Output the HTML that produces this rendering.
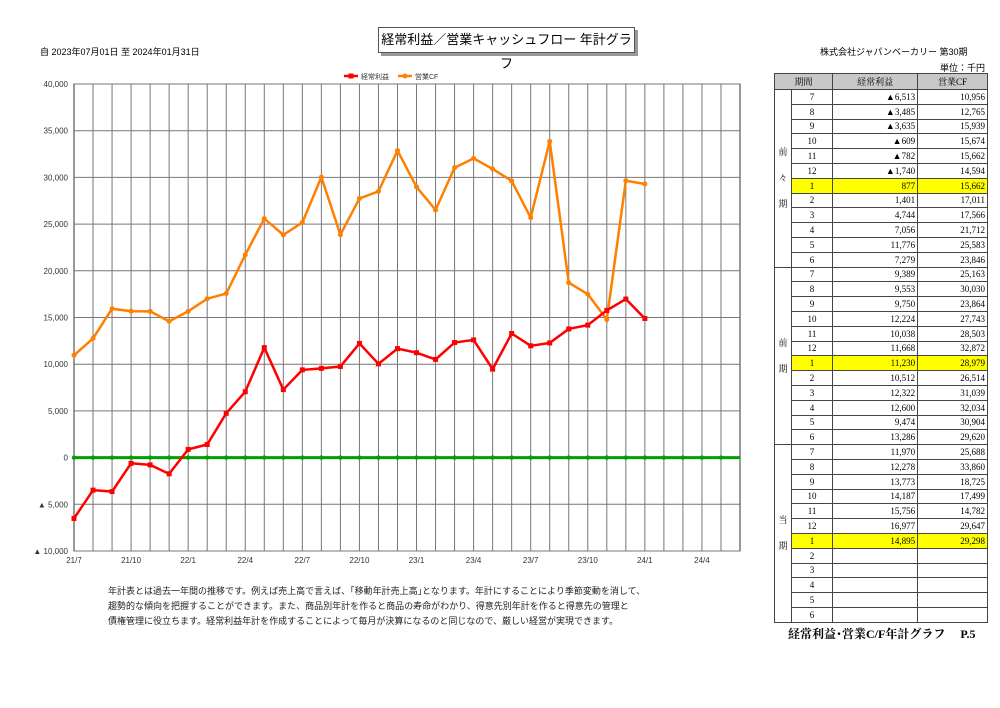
<!DOCTYPE html>
<html><head><meta charset="utf-8">
<style>
body{margin:0;width:1000px;height:708px;background:#fff;font-family:"Liberation Sans","Noto Sans CJK JP",sans-serif;position:relative;overflow:hidden}
.abs{position:absolute}
#title{left:378px;top:27px;width:255px;height:24px;border:1px solid #555;box-shadow:3px 3px 0 #999;font-size:13px;line-height:24px;text-align:center;background:#fff}
table{border-collapse:collapse;font-family:"Liberation Serif","Noto Serif CJK SC",serif;font-size:9px}
td,th{border:1px solid #444;padding:0 2px;height:13.8px}
th{background:#c8c8c8;font-weight:normal;height:15px}
td.n{text-align:right}
td.m{text-align:center}
tr.hl td.h{background:#ffff00}
</style></head><body>
<div id="title" class="abs">経常利益／営業キャッシュフロー 年計グラフ</div>
<div class="abs" style="left:40px;top:45px;font-size:9px">自 2023年07月01日 至 2024年01月31日</div>
<div class="abs" style="left:820px;top:45px;font-size:9px">株式会社ジャパンベーカリー 第30期</div>
<div class="abs" style="left:940px;top:61px;font-size:9px">単位：千円</div>
<svg class="abs" style="left:0;top:0" width="760" height="580" id="chart"></svg>
<div class="abs" style="left:108px;top:584px;font-size:9px;line-height:15px;color:#222">年計表とは過去一年間の推移です。例えば売上高で言えば、｢移動年計売上高｣となります。年計にすることにより季節変動を消して、<br>趨勢的な傾向を把握することができます。また、商品別年計を作ると商品の寿命がわかり、得意先別年計を作ると得意先の管理と<br>債権管理に役立ちます。経常利益年計を作成することによって毎月が決算になるのと同じなので、厳しい経営が実現できます。</div>
<div class="abs" style="left:774px;top:73px" id="tbl"></div>
<div class="abs" style="left:788px;top:625px;font-size:12px;font-weight:bold;font-family:'Liberation Serif','Noto Serif CJK SC',serif">経常利益･営業C/F年計グラフ　 P.5</div>
<script>
const months=["7","8","9","10","11","12","1","2","3","4","5","6","7","8","9","10","11","12","1","2","3","4","5","6","7","8","9","10","11","12","1"];
const profit=[-6513,-3485,-3635,-609,-782,-1740,877,1401,4744,7056,11776,7279,9389,9553,9750,12224,10038,11668,11230,10512,12322,12600,9474,13286,11970,12278,13773,14187,15756,16977,14895];
const cf=[10956,12765,15939,15674,15662,14594,15662,17011,17566,21712,25583,23846,25163,30030,23864,27743,28503,32872,28979,26514,31039,32034,30904,29620,25688,33860,18725,17499,14782,29647,29298];
const yTicks=[40000,35000,30000,25000,20000,15000,10000,5000,0,-5000,-10000];
const xLabels=["21/7","21/10","22/1","22/4","22/7","22/10","23/1","23/4","23/7","23/10","24/1","24/4"];
const periods=["前々期","前期","当期"];
const NS="http://www.w3.org/2000/svg";
const svg=document.getElementById('chart');
const L=74,R=740,T=84,B=551,NM=35;
const xs=i=>L+i*(R-L)/NM;
const ys=v=>T+(40000-v)*(B-T)/50000;
function mk(t,a){const e=document.createElementNS(NS,t);for(const k in a)e.setAttribute(k,a[k]);svg.appendChild(e);return e;}
const fmt=v=>(v<0?"▲ ":"")+Math.abs(v).toLocaleString('en-US');
let e=mk('rect',{x:L,y:T,width:R-L,height:B-T,fill:'#fff',stroke:'#333'});

for(let i=1;i<NM;i++){e=mk('line',{x1:xs(i),x2:xs(i),y1:T,y2:B,stroke:'#777','stroke-width':1});
}
yTicks.forEach(v=>{e=mk('line',{x1:L,x2:R,y1:ys(v),y2:ys(v),stroke:'#777'});

e=mk('text',{x:L-6,y:ys(v)+3,'text-anchor':'end','font-size':8,fill:'#333'});e.textContent=fmt(v);
});
xLabels.forEach((s,i)=>{e=mk('text',{x:xs(i*3),y:B+12,'text-anchor':'middle','font-size':8,fill:'#333'});e.textContent=s;
});
// zero line
e=mk('line',{x1:L,x2:R,y1:ys(0),y2:ys(0),stroke:'#00a000','stroke-width':3});

for(let i=0;i<NM;i++){e=mk('circle',{cx:xs(i),cy:ys(0),r:2.2,fill:'#00a000'});
}
function series(arr,col,name,marker){
 e=mk('polyline',{points:arr.map((v,i)=>xs(i)+','+ys(v)).join(' '),fill:'none',stroke:col,'stroke-width':2.5});
 
 arr.forEach((v,i)=>{ if(marker==='sq'){e=mk('rect',{x:xs(i)-2.5,y:ys(v)-2.5,width:5,height:5,fill:col});}
  else{e=mk('circle',{cx:xs(i),cy:ys(v),r:2.5,fill:col});}
  });
}
series(cf,'#ff7f00','cf','c');
series(profit,'#ff0000','profit','sq');
// legend
e=mk('line',{x1:344,x2:358,y1:76,y2:76,stroke:'#f00','stroke-width':2.5});
e=mk('rect',{x:348.5,y:73.5,width:5,height:5,fill:'#f00'});
e=mk('text',{x:361,y:79,'font-size':7,fill:'#333'});e.textContent='経常利益';
e=mk('line',{x1:398,x2:412,y1:76,y2:76,stroke:'#ff7f00','stroke-width':2.5});
e=mk('circle',{cx:405,cy:76,r:2.5,fill:'#ff7f00'});
e=mk('text',{x:415,y:79,'font-size':7,fill:'#333'});e.textContent='営業CF';
// table
const tf=v=>v==null?'':(v<0?'▲':'')+Math.abs(v).toLocaleString('en-US');
let h='<table style="width:214px"><tr><th colspan="2" style="width:32px">期間</th><th style="width:80px">経常利益</th><th>営業CF</th></tr>';
const mlist=["7","8","9","10","11","12","1","2","3","4","5","6"];
for(let p=0;p<3;p++){for(let r=0;r<12;r++){const k=p*12+r;const hl=r===6&&k<profit.length;
 h+='<tr class="'+(hl?'hl':'')+'">';
 if(r===0)h+='<td rowspan="12" class="m" style="width:12px;line-height:26px">'+periods[p].split('').join('<br>')+'</td>';
 h+='<td class="m h">'+mlist[r]+'</td><td class="n h">'+tf(profit[k])+'</td><td class="n h">'+tf(cf[k])+'</td></tr>';}}
h+='</table>';
document.getElementById('tbl').innerHTML=h;
</script>
</body></html>
